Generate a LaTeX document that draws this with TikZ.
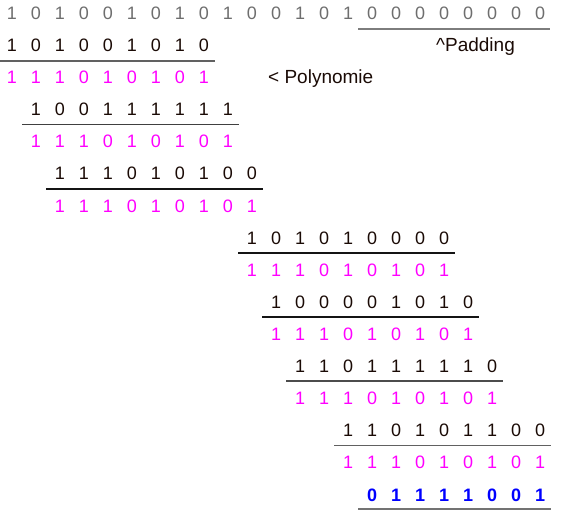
\documentclass[tikz,border=0pt]{standalone}
\usepackage{fontspec}
\setmainfont{Liberation Sans}
\definecolor{topgray}{HTML}{6E6E6E}
\definecolor{mag}{HTML}{FF00FF}
\definecolor{resblue}{HTML}{0000FF}
\definecolor{ink}{HTML}{1A0A05}
\newcommand\drow[4]{%
  \foreach \d [count=\i from 0] in {#4} {
    \node[#3] (r#1c\i) at ({12+24*(#2+\i)}, {19.5+32.1*#1}) {\d};
  }}
\begin{document}
\begin{tikzpicture}[x=1pt,y=-1pt,
  dig/.style={anchor=base,inner sep=0pt,font=\fontsize{18}{18}\selectfont},
  gdig/.style={dig,text=topgray},
  bdig/.style={dig,text=ink},
  mdig/.style={dig,text=mag},
  rdig/.style={dig,text=resblue,font=\fontsize{18}{18}\selectfont\bfseries},
  lbl/.style={anchor=base west,inner sep=0pt,text=ink,font=\fontsize{19}{19}\selectfont},
  rule/.style={line width=1.6pt}]
\useasboundingbox (0,0) rectangle (561,518);
\drow{0}{0}{gdig}{1,0,1,0,0,1,0,1,0,1,0,0,1,0,1,0,0,0,0,0,0,0,0}
\drow{1}{0}{bdig}{1,0,1,0,0,1,0,1,0}
\drow{2}{0}{mdig}{1,1,1,0,1,0,1,0,1}
\drow{3}{1}{bdig}{1,0,0,1,1,1,1,1,1}
\drow{4}{1}{mdig}{1,1,1,0,1,0,1,0,1}
\drow{5}{2}{bdig}{1,1,1,0,1,0,1,0,0}
\drow{6}{2}{mdig}{1,1,1,0,1,0,1,0,1}
\drow{7}{10}{bdig}{1,0,1,0,1,0,0,0,0}
\drow{8}{10}{mdig}{1,1,1,0,1,0,1,0,1}
\drow{9}{11}{bdig}{1,0,0,0,0,1,0,1,0}
\drow{10}{11}{mdig}{1,1,1,0,1,0,1,0,1}
\drow{11}{12}{bdig}{1,1,0,1,1,1,1,1,0}
\drow{12}{12}{mdig}{1,1,1,0,1,0,1,0,1}
\drow{13}{14}{bdig}{1,1,0,1,0,1,1,0,0}
\drow{14}{14}{mdig}{1,1,1,0,1,0,1,0,1}
\drow{15}{15}{rdig}{0,1,1,1,1,0,0,1}
\node[lbl] (poly) at (268,84) {< Polynomie};
\node[lbl] (pad) at (436,52) {\textasciicircum Padding};
% rules
\draw[rule,color=topgray!90] (358,29) -- (550,29);
\draw[rule,color=black!62] (0,61) -- (215,61);
\draw[rule,color=black!75] (22,124.5) -- (239,124.5);
\draw[rule,color=black!92] (46,189) -- (263,189);
\draw[rule,color=black!92] (238,253) -- (455,253);
\draw[rule,color=black!92] (262,317) -- (479,317);
\draw[rule,color=black!70] (286,381) -- (503,381);
\draw[rule,color=black!62] (334,445.5) -- (551,445.5);
\draw[rule,color=black!55] (358,509) -- (551,509);
\end{tikzpicture}
\end{document}
